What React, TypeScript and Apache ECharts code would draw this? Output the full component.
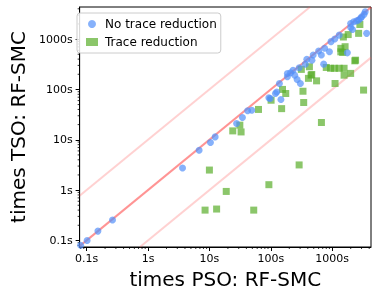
import React, { useEffect, useRef } from "react";
import * as echarts from "echarts";

// [PSO time (s), TSO time (s)]
const noTraceReduction: [number, number][] = [
  [0.08, 0.08], [0.102, 0.1], [0.153, 0.153], [0.264, 0.254], [3.65, 2.75],
  [6.8, 6.2], [10.4, 8.8], [12.4, 11.4], [27.7, 21], [34.5, 27.7],
  [41.9, 37.6], [49, 38.7], [93, 68], [98, 66], [125, 89], [119, 83],
  [146, 63], [138, 131], [186, 178], [210, 214], [245, 192], [268, 158],
  [303, 131], [186, 207], [386, 398], [490, 484], [364, 316], [467, 381],
  [665, 484], [752, 655], [900, 560], [955, 890], [726, 318], [1766, 533],
  [2140, 1550], [1995, 2045], [2240, 2210], [2690, 2390], [3020, 2785],
  [3440, 3500], [3630, 1300], [1100, 1000], [1300, 1200], [2500, 2300],
  [2900, 2600], [3300, 3100], [2000, 1700], [600, 580], [290, 270], [230, 240],
];

const traceReduction: [number, number][] = [
  [8.5, 0.4], [10, 2.5], [13.1, 0.42], [18.8, 0.94], [24, 15], [31.3, 19.5],
  [32.8, 14.3], [52.7, 0.4], [63, 40], [93, 1.28], [101, 61], [150, 41.5],
  [155, 100], [175, 83], [289, 3.16], [314, 250], [334, 92], [343, 55],
  [425, 282], [452, 192], [410, 166], [556, 148], [464, 198], [667, 22],
  [800, 273], [938, 263], [1085, 263], [1300, 263], [1560, 263], [1995, 208],
  [1560, 192], [1112, 131], [2330, 370], [3240, 97], [1380, 558], [1380, 655],
  [1620, 706], [1480, 543], [2400, 381], [1520, 1100], [1820, 1230],
  [2690, 1300], [2820, 1950],
];

const xMin = 0.077;
const xMax = 4280;
const yMin = 0.074;
const yMax = 4340;

const refFactors = [1, 10, 0.1];
const minorMultipliers = [2, 3, 4, 5, 6, 7, 8, 9];
const decades = [0.01, 0.1, 1, 10, 100, 1000];

const FONT = "DejaVu Sans";

function isDecade(v: number) {
  const l = Math.log10(v);
  return Math.abs(l - Math.round(l)) < 1e-6;
}

function fmt(v: number) {
  if (!isDecade(v)) return "";
  const p = Math.round(Math.log10(v));
  if (p < 0) return v.toFixed(-p) + "s";
  return Math.round(v) + "s";
}

export default function App() {
  const ref = useRef<HTMLDivElement>(null);
  useEffect(() => {
    if (!ref.current) return;
    const chart = echarts.init(ref.current, undefined, { renderer: "svg" });

    const minorX: number[] = [];
    const minorY: number[] = [];
    decades.forEach((d) =>
      minorMultipliers.forEach((m) => {
        const v = d * m;
        if (v > xMin && v < xMax) minorX.push(v);
        if (v > yMin && v < yMax) minorY.push(v);
      })
    );

    const refLine = (f: number) => {
      const x0 = Math.max(xMin, yMin / f);
      const x1 = Math.min(xMax, yMax / f);
      return [
        [x0, x0 * f],
        [x1, x1 * f],
      ];
    };

    const lineSeries = refFactors.map((f) => ({
      type: "line",
      data: refLine(f),
      symbol: "none",
      silent: true,
      z: 1,
      lineStyle: {
        color: f === 1 ? "rgba(255,60,60,0.55)" : "rgba(255,90,90,0.28)",
        width: 2,
      },
    }));

    const tickData = [
      ...minorX.map((v) => [v, yMin, 0]),
      ...minorY.map((v) => [xMin, v, 1]),
    ];

    chart.setOption({
      animation: false,
      grid: {
        left: 71,
        right: 8,
        top: 7,
        bottom: 48,
        show: true,
        borderColor: "#000",
        borderWidth: 1,
        backgroundColor: "#fff",
      },
      legend: {
        data: ["No trace reduction", "Trace reduction"],
        orient: "vertical",
        left: 77,
        top: 13,
        padding: [5, 4, 5, 9],
        itemGap: 6,
        itemWidth: 12,
        itemHeight: 8,
        borderColor: "#ccc",
        borderWidth: 1,
        borderRadius: 3,
        backgroundColor: "rgba(255,255,255,0.85)",
        textStyle: { fontFamily: FONT, fontSize: 12, color: "#000", padding: [0, 0, 0, 2] },
      },
      xAxis: {
        type: "log",
        min: xMin,
        max: xMax,
        logBase: 10,
        name: "times PSO: RF-SMC",
        nameLocation: "middle",
        nameGap: 18,
        nameTextStyle: { fontFamily: FONT, fontSize: 20, color: "#000" },
        axisLine: { show: true, lineStyle: { color: "#000", width: 1 } },
        axisTick: { show: true, length: 4, lineStyle: { color: "#000" } },
        axisLabel: {
          fontFamily: FONT,
          fontSize: 11,
          color: "#000",
          margin: 6,
          formatter: fmt,
          showMinLabel: false,
          showMaxLabel: false,
        },
        splitLine: { show: false },
      },
      yAxis: {
        type: "log",
        min: yMin,
        max: yMax,
        logBase: 10,
        name: "times TSO: RF-SMC",
        nameLocation: "middle",
        nameGap: 45,
        nameTextStyle: { fontFamily: FONT, fontSize: 20, color: "#000" },
        axisLine: { show: true, lineStyle: { color: "#000", width: 1 } },
        axisTick: { show: true, length: 4, lineStyle: { color: "#000" } },
        axisLabel: {
          fontFamily: FONT,
          fontSize: 11,
          color: "#000",
          margin: 7,
          formatter: fmt,
          showMinLabel: false,
          showMaxLabel: false,
        },
        splitLine: { show: false },
      },
      series: [
        ...lineSeries,
        {
          type: "custom",
          silent: true,
          z: 0,
          data: tickData,
          renderItem: (_p: any, api: any) => {
            const kind = api.value(2);
            const pt = api.coord([api.value(0), api.value(1)]);
            if (kind === 0) {
              return {
                type: "line",
                shape: { x1: pt[0], y1: pt[1], x2: pt[0], y2: pt[1] + 2 },
                style: { stroke: "#000", lineWidth: 0.8 },
              };
            }
            return {
              type: "line",
              shape: { x1: pt[0], y1: pt[1], x2: pt[0] - 2, y2: pt[1] },
              style: { stroke: "#000", lineWidth: 0.8 },
            };
          },
        },
        {
          name: "No trace reduction",
          type: "scatter",
          data: noTraceReduction,
          symbol: "circle",
          symbolSize: 7,
          z: 3,
          itemStyle: { color: "#5290fa", opacity: 0.7 },
        },
        {
          name: "Trace reduction",
          type: "scatter",
          data: traceReduction,
          symbol: "rect",
          symbolSize: 7,
          z: 2,
          itemStyle: { color: "#5aae2b", opacity: 0.7 },
        },
      ],
    });
    return () => chart.dispose();
  }, []);
  return (
    <div
      ref={ref}
      style={{ position: "fixed", left: 0, top: 0, width: 379, height: 295 }}
    />
  );
}
